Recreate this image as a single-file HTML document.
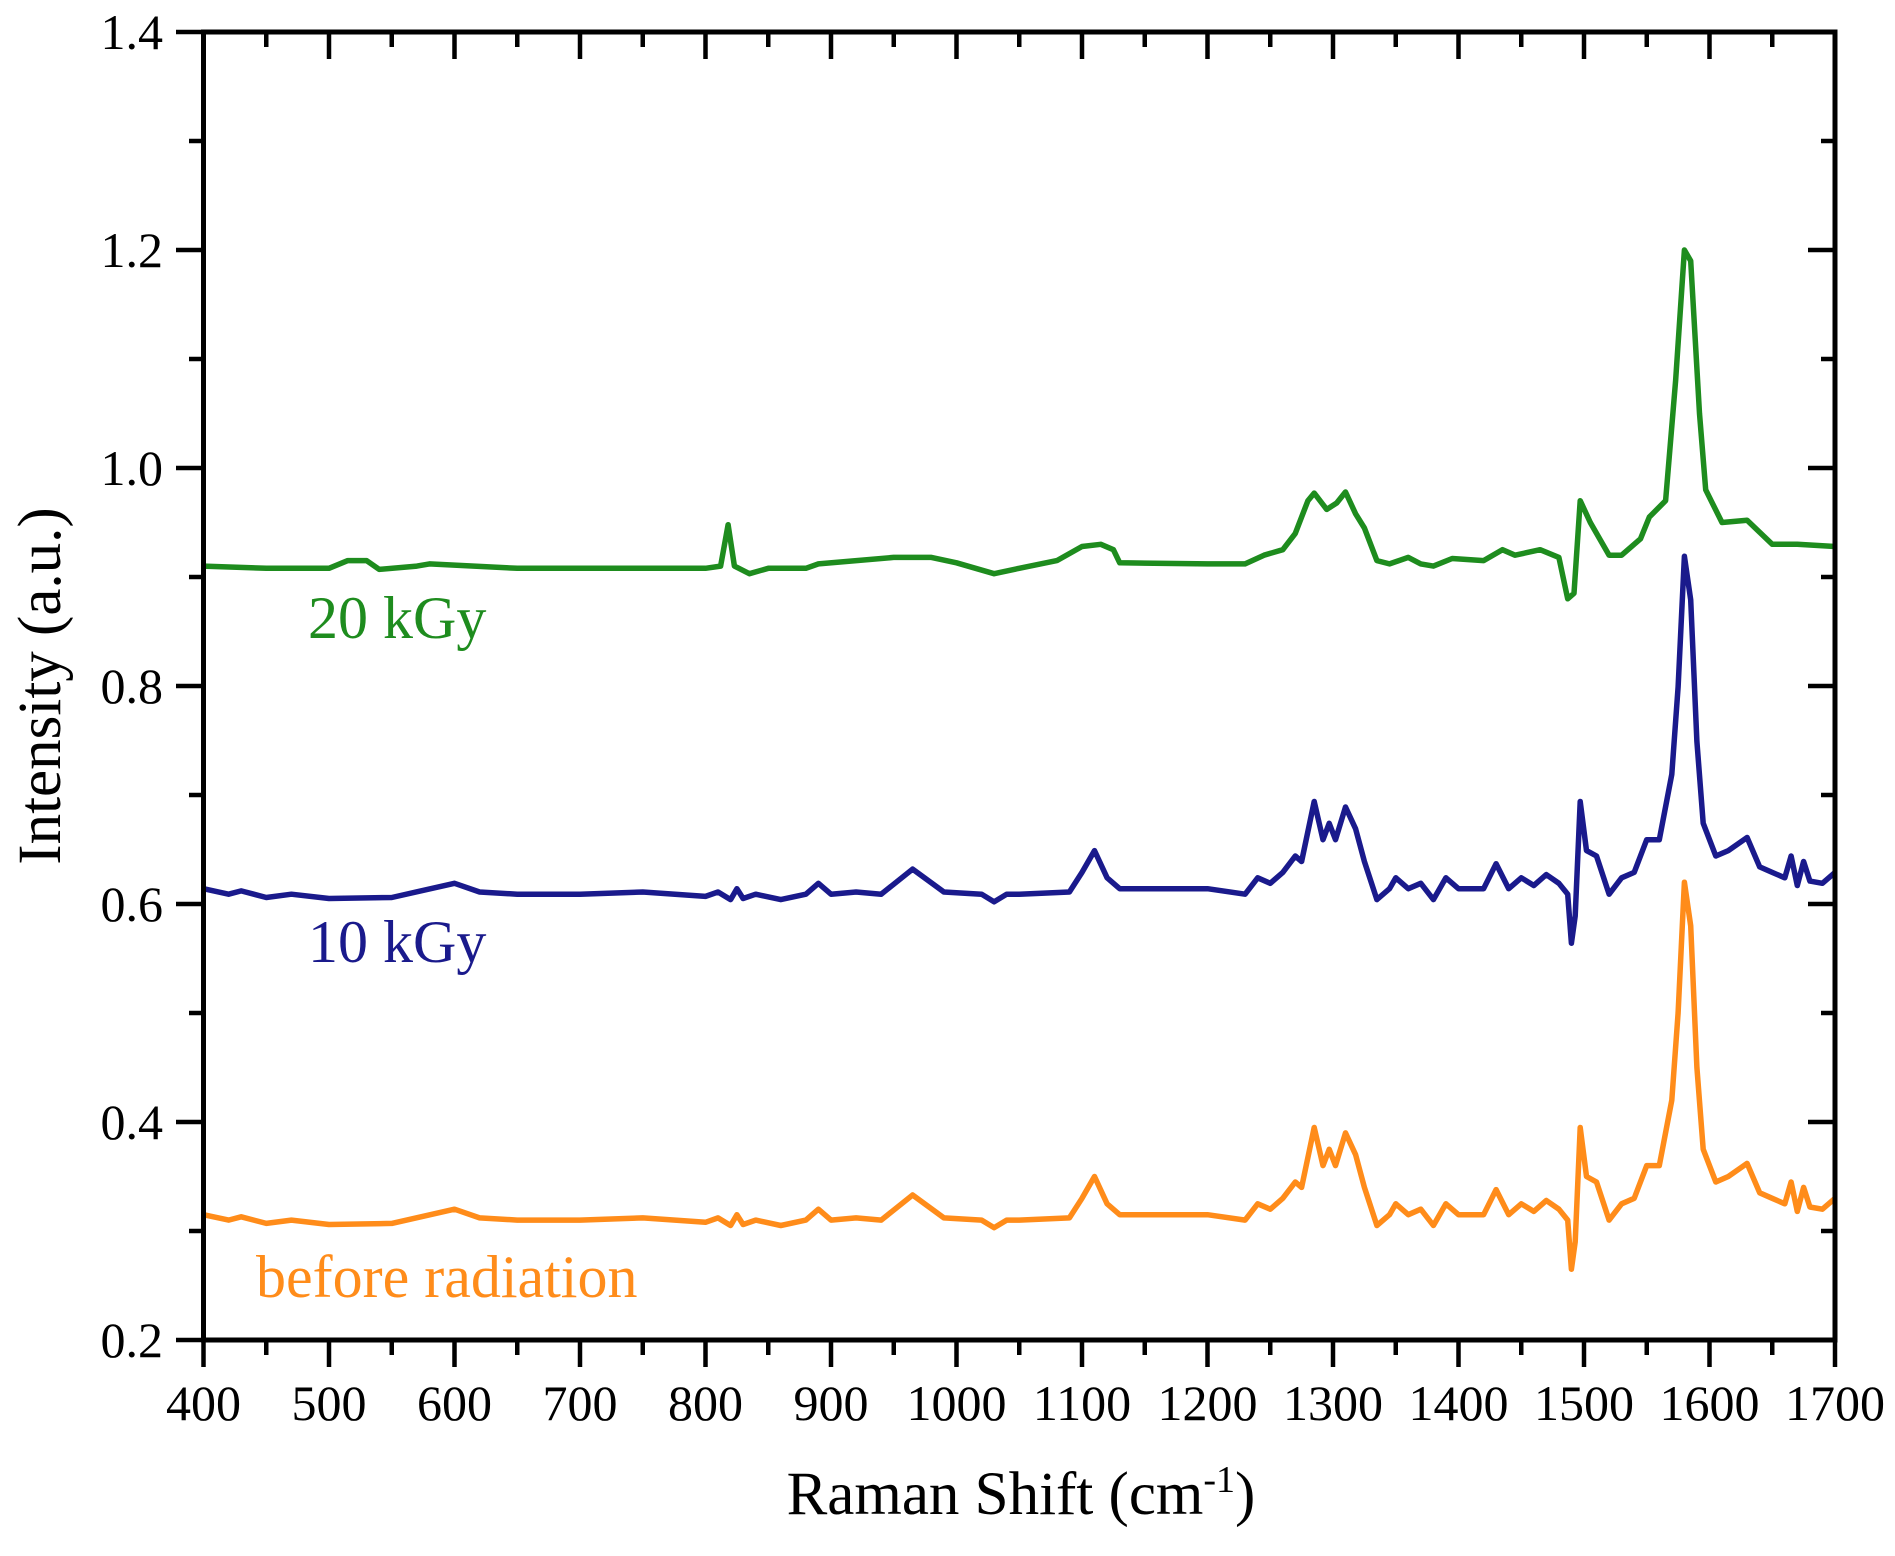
<!DOCTYPE html>
<html><head><meta charset="utf-8"><style>
html,body{margin:0;padding:0;background:#fff;}
svg{display:block;font-family:"Liberation Serif",serif;}
</style></head><body>
<svg id="s" width="1895" height="1556" viewBox="0 0 1895 1556" xmlns="http://www.w3.org/2000/svg">
<rect width="1895" height="1556" fill="#fff"/>
<g id="ticks" stroke="#000" stroke-width="4.5"></g>
<g id="series" fill="none" stroke-width="5.5" stroke-linejoin="round"></g>
<rect x="203.5" y="32" width="1631.5" height="1308" fill="none" stroke="#000" stroke-width="5"/>
<g id="labels" font-size="50" fill="#000"></g>
<text x="1021" y="1514" font-size="61" text-anchor="middle">Raman Shift (cm<tspan font-size="38" dy="-22">-1</tspan><tspan dy="22">)</tspan></text>
<text transform="translate(60,686) rotate(-90)" font-size="61" text-anchor="middle">Intensity (a.u.)</text>
<text x="308" y="638" font-size="60" fill="#1e8c1e">20 kGy</text>
<text x="308" y="962" font-size="60" fill="#1a1a8c">10 kGy</text>
<text x="256" y="1297" font-size="60" fill="#ff8c1a">before radiation</text>
</svg>
<script>
var X=function(v){return 203.5+(v-400)*1.255;};
var Y=function(v){return 1340-(v-0.2)*1090;};
var ns="http://www.w3.org/2000/svg";
function el(p,t,a,txt){var e=document.createElementNS(ns,t);for(var k in a)e.setAttribute(k,a[k]);if(txt)e.textContent=txt;p.appendChild(e);return e;}
var tk=document.getElementById('ticks'),lb=document.getElementById('labels');
for(var v=400;v<=1700;v+=50){var x=X(v),maj=(v%100==0);
el(tk,'line',{x1:x,y1:1340,x2:x,y2:maj?1367:1355});
el(tk,'line',{x1:x,y1:32,x2:x,y2:maj?59:47});
if(maj)el(lb,'text',{x:x,y:1420,'text-anchor':'middle'},String(v));}
for(var i=0;i<=12;i++){var val=0.2+i*0.1,y=Y(val),maj=(i%2==0);
el(tk,'line',{x1:203.5,y1:y,x2:maj?176:189,y2:y});
el(tk,'line',{x1:1835,y1:y,x2:maj?1808:1821,y2:y});
if(maj)el(lb,'text',{x:163,y:y+17,'text-anchor':'end'},val.toFixed(1));}
var O=[[400,.315],[420,.31],[430,.313],[450,.307],[470,.31],[500,.306],[550,.307],[600,.32],[620,.312],[650,.31],[700,.31],[750,.312],[800,.308],[810,.312],[820,.305],[825,.315],[830,.306],[840,.31],[860,.305],[880,.31],[890,.32],[900,.31],[920,.312],[940,.31],[965,.333],[990,.312],[1020,.31],[1030,.303],[1040,.31],[1050,.31],[1090,.312],[1100,.33],[1110,.35],[1120,.325],[1130,.315],[1200,.315],[1230,.31],[1240,.325],[1250,.32],[1260,.33],[1270,.345],[1275,.34],[1285,.395],[1292,.36],[1297,.375],[1302,.36],[1310,.39],[1318,.37],[1325,.34],[1335,.305],[1345,.315],[1350,.325],[1360,.315],[1370,.32],[1380,.305],[1390,.325],[1400,.315],[1420,.315],[1430,.338],[1440,.315],[1450,.325],[1460,.318],[1470,.328],[1480,.32],[1487,.31],[1490,.265],[1493,.29],[1497,.395],[1502,.35],[1510,.345],[1520,.31],[1530,.325],[1540,.33],[1550,.36],[1560,.36],[1570,.42],[1575,.5],[1580,.62],[1585,.58],[1590,.45],[1595,.375],[1605,.345],[1615,.35],[1630,.362],[1640,.335],[1650,.33],[1660,.325],[1665,.345],[1670,.318],[1675,.34],[1680,.322],[1690,.32],[1700,.33]];
var G=[[400,.91],[450,.908],[500,.908],[515,.915],[530,.915],[540,.907],[570,.91],[580,.912],[650,.908],[800,.908],[812,.91],[818,.948],[823,.91],[835,.903],[850,.908],[880,.908],[890,.912],[950,.918],[980,.918],[1000,.913],[1030,.903],[1050,.908],[1080,.915],[1100,.928],[1115,.93],[1125,.925],[1130,.913],[1200,.912],[1230,.912],[1245,.92],[1260,.925],[1270,.94],[1280,.97],[1285,.977],[1295,.962],[1303,.968],[1310,.978],[1318,.958],[1325,.945],[1335,.915],[1345,.912],[1360,.918],[1370,.912],[1380,.91],[1395,.917],[1420,.915],[1435,.925],[1445,.92],[1465,.925],[1480,.918],[1487,.88],[1492,.885],[1497,.97],[1505,.95],[1520,.92],[1530,.92],[1545,.935],[1552,.955],[1565,.97],[1573,1.08],[1580,1.2],[1585,1.19],[1592,1.05],[1597,.98],[1610,.95],[1630,.952],[1650,.93],[1670,.93],[1700,.928]];
function pts(a,off){return a.map(function(p){return X(p[0]).toFixed(1)+','+Y(p[1]+off).toFixed(1);}).join(' ');}
var sg=document.getElementById('series');
el(sg,'polyline',{points:pts(O,0),stroke:'#ff8c1a'});
el(sg,'polyline',{points:pts(O,0.299),stroke:'#1a1a8c'});
el(sg,'polyline',{points:pts(G,0),stroke:'#1e8c1e'});
</script>
</body></html>
